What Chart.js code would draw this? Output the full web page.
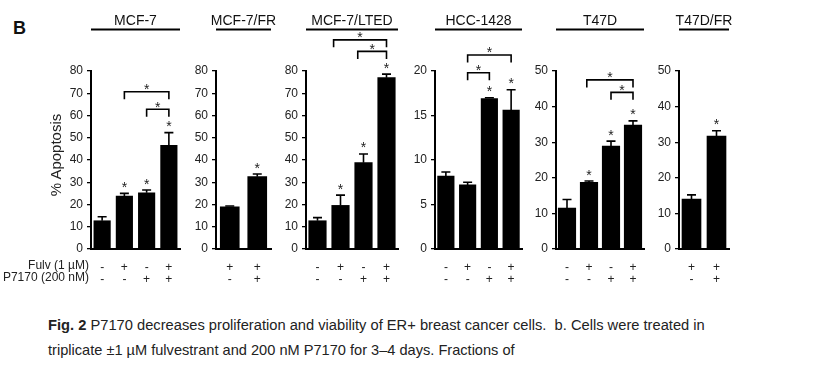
<!DOCTYPE html>
<html><head><meta charset="utf-8">
<script src="https://cdn.jsdelivr.net/npm/chart.js@4.4.1/dist/chart.umd.min.js"></script>
<style>
html,body{margin:0;padding:0;background:#fff;}
body{width:813px;height:391px;position:relative;overflow:hidden;font-family:Arial,"Liberation Sans",sans-serif;color:#222;}
canvas{position:absolute;top:0;}
.txt{position:absolute;white-space:pre;line-height:1;}
</style></head><body>

<div class="txt" style="left:13px;top:19px;font-size:18px;font-weight:bold;color:#111;">B</div>
<div class="txt" style="left:55px;top:155px;font-size:15px;transform:translate(-50%,-50%) rotate(-90deg);z-index:5;">% Apoptosis</div>
<div class="txt" style="right:724px;top:259px;font-size:12px;z-index:5;">Fulv (1 µM)</div>
<div class="txt" style="right:724px;top:271px;font-size:12px;z-index:5;">P7170 (200 nM)</div>
<div class="txt" style="left:48px;top:318px;font-size:14.7px;"><b>Fig. 2</b> P7170 decreases proliferation and viability of ER+ breast cancer cells.  b. Cells were treated in</div>
<div class="txt" style="left:48px;top:343px;font-size:14.6px;">triplicate ±1 µM fulvestrant and 200 nM P7170 for 3–4 days. Fractions of</div>

<canvas id="c0"></canvas><canvas id="c1"></canvas><canvas id="c2"></canvas>
<canvas id="c3"></canvas><canvas id="c4"></canvas><canvas id="c5"></canvas>

<script>
// ---- data ----
const panelTitles = ['MCF-7', 'MCF-7/FR', 'MCF-7/LTED', 'HCC-1428', 'T47D', 'T47D/FR'];

const fulv4 = ['-', '+', '-', '+'];
const p7170_4 = ['-', '-', '+', '+'];
const fulv2 = ['+', '+'];
const p7170_2 = ['-', '+'];

const mcf7Values = [12.7, 23.8, 25.3, 46.6];
const mcf7Errors = [1.8, 1.2, 1.2, 5.7];
const mcf7Stars = [false, true, true, true];
const mcf7Brackets = [[1, 3, 70.7], [2, 3, 62.8]];

const mcf7frValues = [19.0, 32.5];
const mcf7frErrors = [0.3, 1.2];
const mcf7frStars = [false, true];

const ltedValues = [12.7, 19.6, 38.8, 77.0];
const ltedErrors = [1.4, 4.6, 3.9, 1.6];
const ltedStars = [false, true, true, true];
const ltedBrackets = [[0.7, 3, 94.0], [1.75, 3, 88.8]];

const hccValues = [8.2, 7.2, 16.9, 15.6];
const hccErrors = [0.45, 0.3, 0.1, 2.3];
const hccStars = [false, false, true, true];
const hccBrackets = [[1, 3, 21.8], [1, 2, 19.8]];

const t47dValues = [11.5, 18.7, 28.9, 34.8];
const t47dErrors = [2.4, 0.4, 1.4, 1.2];
const t47dStars = [false, true, true, true];
const t47dBrackets = [[0.9, 3, 47.5], [2, 3, 44.0]];

const t47dfrValues = [14.0, 31.7];
const t47dfrErrors = [1.2, 1.5];
const t47dfrStars = [false, true];

const yMaxes = [80, 80, 80, 20, 50, 50];
const yStepSizes = [10, 10, 10, 5, 10, 10];

// ---- layout (pixels) ----
const FONT = 'Arial, "Liberation Sans", sans-serif';
const axisLeft = [91, 216, 306, 435, 556, 679];
const axisRight = [180, 271, 398, 522, 644, 729];
const barWidths = [16.5, 19, 17.5, 16.5, 17.5, 19];
const Y_AXIS_W = 40, PAD_TOP = 71, PLOT_H = 178, X_AXIS_H = 40, PAD_R = 6;

const panels = [
  {values: mcf7Values, errors: mcf7Errors, stars: mcf7Stars, brackets: mcf7Brackets, fulv: fulv4, p7170: p7170_4},
  {values: mcf7frValues, errors: mcf7frErrors, stars: mcf7frStars, brackets: [], fulv: fulv2, p7170: p7170_2},
  {values: ltedValues, errors: ltedErrors, stars: ltedStars, brackets: ltedBrackets, fulv: fulv4, p7170: p7170_4},
  {values: hccValues, errors: hccErrors, stars: hccStars, brackets: hccBrackets, fulv: fulv4, p7170: p7170_4},
  {values: t47dValues, errors: t47dErrors, stars: t47dStars, brackets: t47dBrackets, fulv: fulv4, p7170: p7170_4},
  {values: t47dfrValues, errors: t47dfrErrors, stars: t47dfrStars, brackets: [], fulv: fulv2, p7170: p7170_2}
];

function drawStar(ctx, x, yCenter) {
  ctx.save();
  ctx.fillStyle = '#222';
  ctx.font = '14px ' + FONT;
  ctx.textAlign = 'center';
  ctx.textBaseline = 'alphabetic';
  ctx.fillText('*', x, yCenter + 8);
  ctx.restore();
}

const annotPlugin = {
  id: 'annot',
  afterDatasetsDraw(chart) {
    const p = chart.$panel;
    const ctx = chart.ctx;
    const ys = chart.scales.y, xs = chart.scales.x;
    const meta = chart.getDatasetMeta(0);
    ctx.save();
    ctx.strokeStyle = '#000';
    ctx.lineWidth = 1.6;
    // error bars + stars
    meta.data.forEach((bar, i) => {
      const top = ys.getPixelForValue(p.values[i]);
      const eTop = ys.getPixelForValue(p.values[i] + p.errors[i]);
      ctx.beginPath();
      ctx.moveTo(bar.x, top);
      ctx.lineTo(bar.x, eTop);
      ctx.moveTo(bar.x - 4.5, eTop);
      ctx.lineTo(bar.x + 4.5, eTop);
      ctx.stroke();
      if (p.stars[i]) drawStar(ctx, bar.x, eTop - 9.5);
    });
    // brackets
    const x0 = xs.getPixelForValue(0), x1 = xs.getPixelForValue(1);
    const xAt = (idx) => x0 + (x1 - x0) * idx;
    p.brackets.forEach(([a, b, v]) => {
      const y = ys.getPixelForValue(v);
      const xa = xAt(a), xb = xAt(b);
      ctx.beginPath();
      ctx.moveTo(xa, y + 7.5);
      ctx.lineTo(xa, y);
      ctx.lineTo(xb, y);
      ctx.lineTo(xb, y + 7.5);
      ctx.stroke();
      drawStar(ctx, (xa + xb) / 2, y - 5.5);
    });
    // title + underline
    const ca = chart.chartArea;
    ctx.fillStyle = '#111';
    ctx.font = '14px ' + FONT;
    ctx.textAlign = 'center';
    ctx.textBaseline = 'alphabetic';
    ctx.fillText(p.title, (ca.left + ca.right) / 2, 25);
    ctx.lineWidth = 2;
    ctx.beginPath();
    ctx.moveTo(ca.left, 29.5);
    ctx.lineTo(ca.right, 29.5);
    ctx.stroke();
    ctx.restore();
  }
};

panels.forEach((p, k) => {
  p.title = panelTitles[k];
  const cv = document.getElementById('c' + k);
  const w = Y_AXIS_W + (axisRight[k] - axisLeft[k]) + PAD_R;
  const h = PAD_TOP + PLOT_H + X_AXIS_H;
  cv.width = w; cv.height = h;
  cv.style.left = (axisLeft[k] - Y_AXIS_W) + 'px';
  cv.style.width = w + 'px'; cv.style.height = h + 'px';
  const labels = p.values.map((_, i) => [p.fulv[i], p.p7170[i]]);
  new Chart(cv, {
    type: 'bar',
    data: {
      labels: labels,
      datasets: [{data: p.values, backgroundColor: '#000', borderWidth: 0, barThickness: barWidths[k]}]
    },
    options: {
      responsive: false, animation: false, devicePixelRatio: 1,
      layout: {padding: {left: 0, right: PAD_R, top: PAD_TOP, bottom: 0}},
      plugins: {legend: {display: false}, tooltip: {enabled: false}, title: {display: false}},
      scales: {
        x: {
          grid: {display: false},
          border: {display: true, color: '#000', width: 2},
          ticks: {color: '#222', font: {size: 12, family: FONT, lineHeight: 1}, padding: 5, autoSkip: false, maxRotation: 0},
          afterFit(s) { s.height = X_AXIS_H; }
        },
        y: {
          min: 0, max: yMaxes[k],
          ticks: {stepSize: yStepSizes[k], color: '#222', font: {size: 12, family: FONT}, padding: 4},
          grid: {drawOnChartArea: false, drawTicks: true, tickLength: 4, color: '#000', lineWidth: 1.3},
          border: {color: '#000', width: 2},
          afterFit(s) { s.width = Y_AXIS_W; }
        }
      }
    },
    plugins: [{id: 'panelRef', beforeInit(c) { c.$panel = p; }}, annotPlugin]
  });
});
</script>
</body></html>
